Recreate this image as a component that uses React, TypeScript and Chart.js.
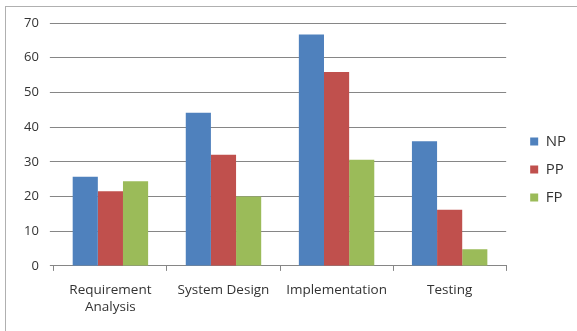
import React, { useEffect, useRef } from "react";
import { Chart, registerables } from "chart.js";

Chart.register(...registerables);

const categories: (string | string[])[] = [["Requirement", "Analysis"], "System Design", "Implementation", "Testing"];
const npValues = [25.7, 44.1, 66.7, 35.9];
const ppValues = [21.5, 32.0, 55.9, 16.2];
const fpValues = [24.4, 20.0, 30.6, 4.8];
const seriesNames = ["NP", "PP", "FP"];

const LEGEND_GAP = 11;
const LEGEND_LIFT = 5;

const legendGapPlugin = {
  id: "legendGap",
  afterInit(chart: any) {
    const lg = chart.legend;
    if (!lg) return;
    const origFit = lg.fit.bind(lg);
    lg.fit = function () {
      origFit();
      this.width += LEGEND_GAP;
    };
  },
  afterLayout(chart: any) {
    const lg = chart.legend;
    if (!lg) return;
    lg.left += LEGEND_GAP;
    lg.top -= LEGEND_LIFT;
    lg.bottom -= LEGEND_LIFT;
  },
};

export default function App() {
  const ref = useRef<HTMLCanvasElement | null>(null);
  useEffect(() => {
    document.body.style.margin = "0";
    const ctx = ref.current!;
    const font = "'Open Sans', 'DejaVu Sans', sans-serif";
    const chart = new Chart(ctx, {
      type: "bar",
      data: {
        labels: categories,
        datasets: [
          { label: seriesNames[0], data: npValues, backgroundColor: "#4F81BD" },
          { label: seriesNames[1], data: ppValues, backgroundColor: "#C0504D" },
          { label: seriesNames[2], data: fpValues, backgroundColor: "#9BBB59" },
        ],
      },
      plugins: [legendGapPlugin],
      options: {
        animation: false,
        responsive: false,
        maintainAspectRatio: false,
        layout: { padding: { left: 13, top: 23, right: 1, bottom: 5 } },
        datasets: { bar: { categoryPercentage: 0.667, barPercentage: 1 } },
        plugins: {
          tooltip: { enabled: false },
          legend: {
            position: "right",
            labels: {
              boxWidth: 8,
              boxHeight: 8,
              padding: 13,
              color: "#333",
              font: { family: font, size: 15 },
            },
          },
        },
        scales: {
          x: {
            offset: true,
            grid: { display: true, drawOnChartArea: false, drawTicks: true, tickLength: 5, color: "#868686", offset: true },
            border: { display: true, color: "#868686" },
            ticks: { color: "#333", font: { family: font, size: 13.5, lineHeight: 1.3 }, padding: 10, maxRotation: 0 },
          },
          y: {
            min: 0,
            max: 70,
            ticks: { stepSize: 10, color: "#333", font: { family: font, size: 13 }, padding: 11 },
            grid: { color: "#868686", tickLength: 4 },
            border: { display: false },
          },
        },
      },
    });
    return () => chart.destroy();
  }, []);
  return (
    <div style={{ position: "absolute", left: 0, top: 0, width: 577, height: 331 }}>
      <div style={{ position: "absolute", left: 5, top: 6, width: 580, height: 340, border: "1px solid #b0b0b0" }} />
      <canvas ref={ref} width={577} height={331} style={{ position: "absolute", left: 0, top: 0 }} />
    </div>
  );
}
